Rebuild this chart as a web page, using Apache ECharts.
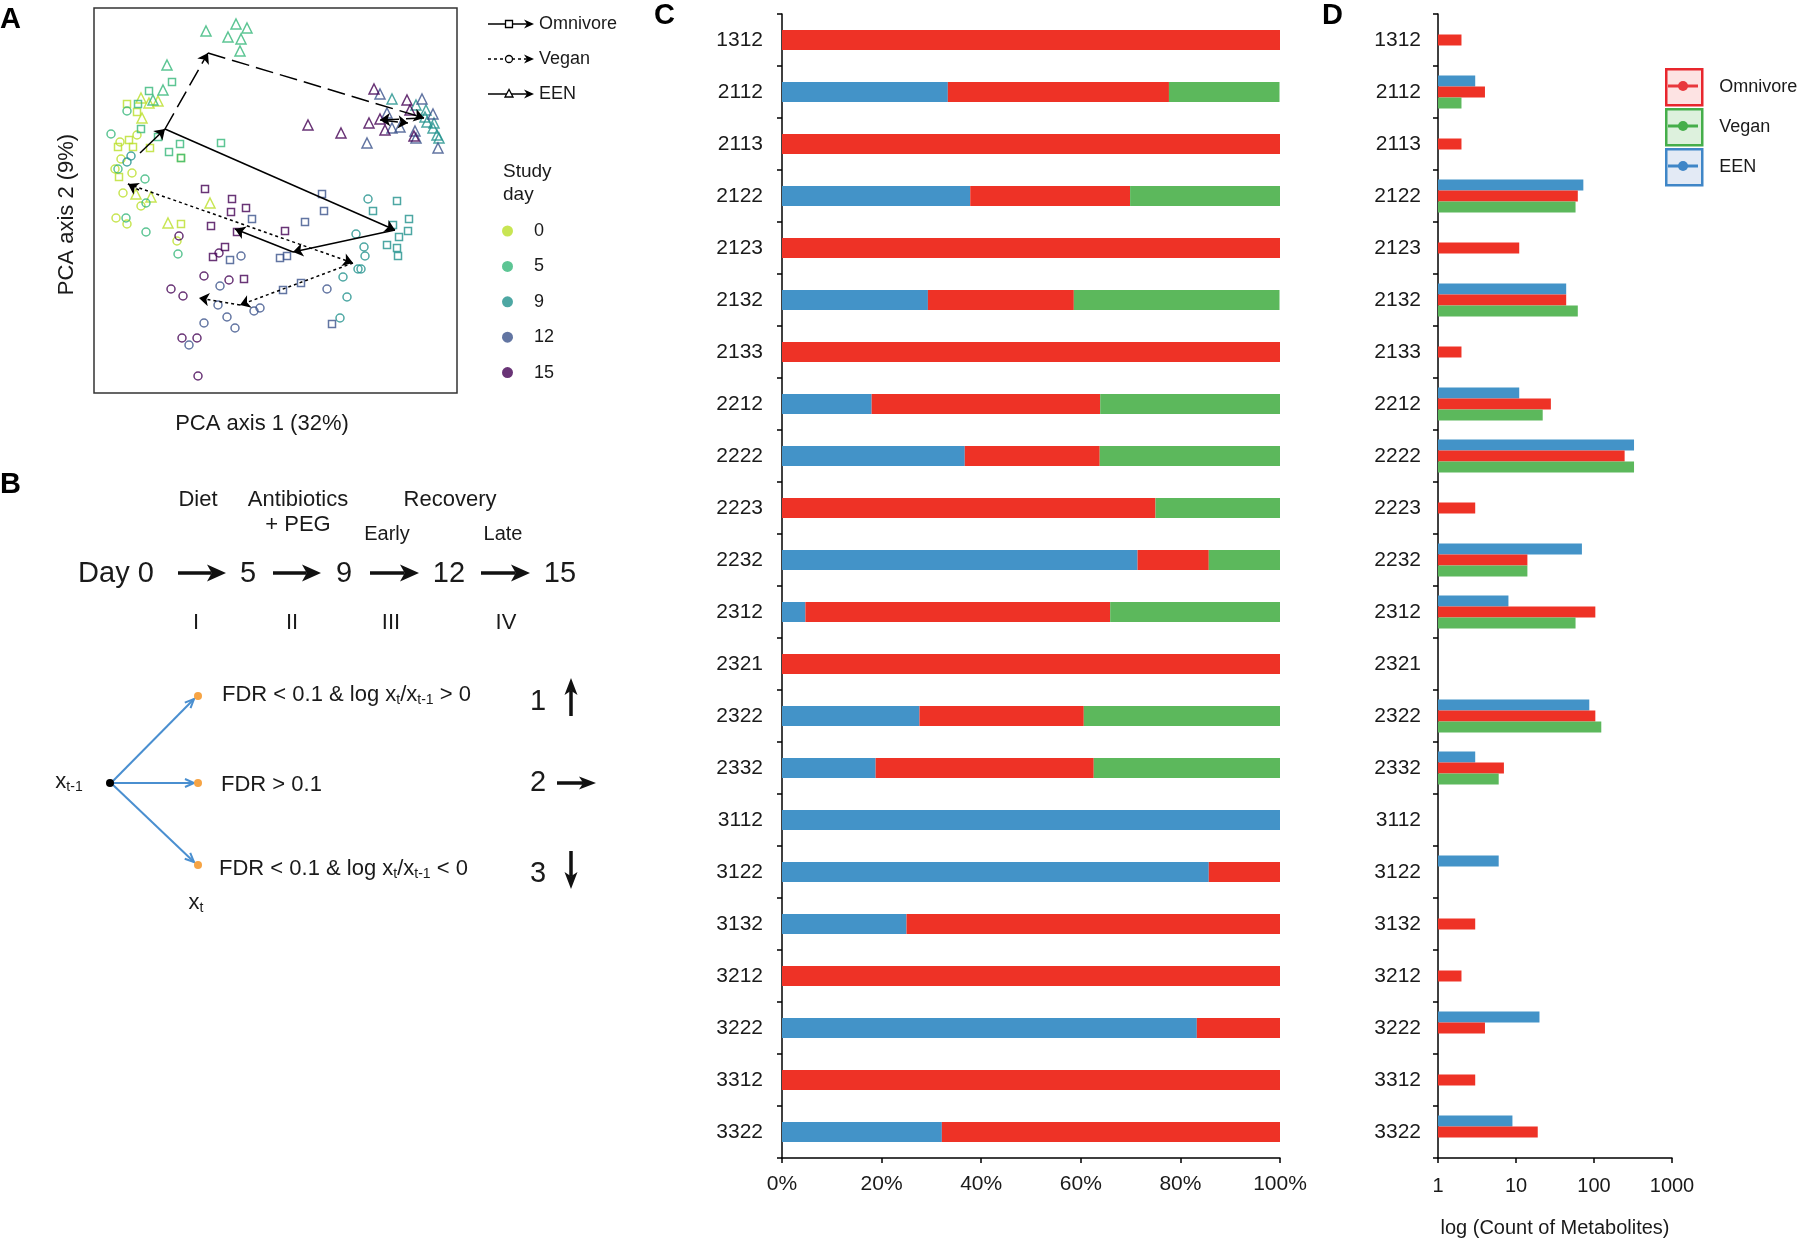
<!DOCTYPE html>
<html>
<head>
<meta charset="utf-8">
<title>Metabolite trajectories</title>
<script src="https://cdn.jsdelivr.net/npm/echarts@6/dist/echarts.min.js"></script>
<style>
  html, body { margin: 0; padding: 0; background: #fff; }
  #main { width: 1800px; height: 1239px; }
</style>
</head>
<body>
<div id="main"></div>
<script>
// ---------- data ----------
// panel A: PCA scores (arbitrary units), squares = Omnivore, circles = Vegan, triangles = EEN
const days = ['0', '5', '9', '12', '15'];
const dayColors = ['#BADE28', '#35B779', '#21918C', '#3B528B', '#440154'];

const omniD0 = [[33,289],[43,281],[35,253],[24,246],[39,246],[56,245],[87,235],[25,216],[87,169]];
const omniD5 = [[78,311],[55,302],[44,289],[47,264],[64,256],[75,241],[86,249],[87,235],[127,250]];
const omniD9 = [[303,192],[279,182],[315,174],[299,168],[314,162],[305,156],[293,148],[303,145],[304,137]];
const omniD12 = [[228,199],[230,182],[211,171],[158,174],[136,133],[186,135],[193,137],[207,110],[189,103],[238,69]];
const omniD15 = [[111,204],[138,194],[137,181],[152,185],[117,167],[143,161],[191,162],[131,146],[119,136],[150,114]];

const veganD0 = [[43,258],[26,251],[27,234],[21,224],[38,220],[29,200],[47,187],[22,175],[33,169],[83,152]];
const veganD5 = [[33,282],[17,259],[24,224],[51,214],[52,190],[32,175],[52,161],[84,139]];
const veganD9 = [[37,237],[33,231],[274,194],[262,159],[270,146],[271,137],[264,124],[267,124],[249,116],[253,96],[246,75]];
const veganD12 = [[147,137],[126,107],[124,88],[160,82],[166,85],[233,104],[133,76],[110,70],[141,65],[95,48]];
const veganD15 = [[85,157],[125,140],[110,117],[135,113],[77,104],[89,97],[88,55],[103,55],[104,17]];

const eenD0 = [[47,295],[55,290],[64,292],[48,275],[42,199],[57,196],[74,170],[116,190]];
const eenD5 = [[112,362],[142,369],[153,365],[134,356],[147,354],[146,342],[73,328],[69,303],[59,293]];
const eenD9 = [[298,294],[322,288],[332,283],[331,276],[333,271],[340,270],[339,265],[343,258],[345,255]];
const eenD12 = [[286,299],[328,294],[339,279],[293,280],[298,265],[306,266],[321,262],[322,255],[273,250],[344,245]];
const eenD15 = [[280,304],[313,293],[316,283],[286,274],[275,270],[291,263],[320,257],[214,268],[247,260]];

// centroid trajectories, day 0 -> 5 -> 9 -> 12 -> 15
const omniPath = [[46,240],[71,264],[301,163],[199,141],[141,164]];
const veganPath = [[45,203],[34,209],[259,130],[146,88],[105,95]];
const eenPath = [[71,264],[114,340],[330,275],[286,273],[314,270]];

// panels C and D
const patterns = ['1312','2112','2113','2122','2123','2132','2133','2212','2222','2223','2232',
  '2312','2321','2322','2332','3112','3122','3132','3212','3222','3312','3322'];
// C: share of metabolites (%)
const pctEEN = [0,33.3,0,37.8,0,29.3,0,18.0,36.7,0,71.4,4.7,0,27.6,18.8,100,85.7,25,0,83.3,0,32.1];
const pctOmni = [100,44.4,100,32.1,100,29.3,100,45.9,27.1,75,14.3,61.2,100,33.0,43.8,0,14.3,75,100,16.7,100,67.9];
const pctVegan = [0,22.2,0,30.1,0,41.3,0,36.1,36.2,25,14.3,34.1,0,39.4,37.5,0,0,0,0,0,0,0];
// D: count of metabolites
const cntEEN = [null,3,null,73,null,44,null,11,326,null,70,8,null,87,3,1,6,1,null,20,null,9];
const cntOmni = [2,4,2,62,11,44,2,28,247,3,14,104,1,104,7,null,1,3,2,4,3,19];
const cntVegan = [null,2,null,58,null,62,null,22,326,1,14,58,null,124,6,null,null,null,null,null,null,null];

// ---------- style ----------
const FONT = '"Liberation Sans", Arial, Helvetica, sans-serif';
const BLUE = '#4393C8', RED = '#EE3226', GREEN = '#5CB85C';

const omniByDay = [omniD0, omniD5, omniD9, omniD12, omniD15];
const veganByDay = [veganD0, veganD5, veganD9, veganD12, veganD15];
const eenByDay = [eenD0, eenD5, eenD9, eenD12, eenD15];

const scatterSeries = days.map((d, i) => ({
  name: d,
  type: 'scatter',
  xAxisIndex: 0,
  yAxisIndex: 0,
  itemStyle: { color: 'rgba(255,255,255,0)', borderColor: dayColors[i], borderWidth: 1.5 },
  data: [].concat(
    omniByDay[i].map(p => ({ value: p, symbol: 'rect', symbolSize: 7 })),
    veganByDay[i].map(p => ({ value: p, symbol: 'circle', symbolSize: 8 })),
    eenByDay[i].map(p => ({ value: p, symbol: 'triangle', symbolSize: 10 }))
  )
}));

function segments(path) {
  return path.slice(1).map((p, i) => ({ coords: [path[i], p] }));
}
function pathSeries(name, path, dash) {
  return {
    name: name,
    type: 'lines',
    coordinateSystem: 'cartesian2d',
    xAxisIndex: 0,
    yAxisIndex: 0,
    symbol: ['none', 'arrow'],
    symbolSize: 10,
    z: 5,
    lineStyle: { color: '#000', width: 1.5, type: dash, opacity: 1, curveness: 0 },
    data: segments(path)
  };
}

// ---------- graphic helpers (panel B, legends) ----------
function txt(x, y, text, size, extra) {
  return {
    type: 'text', x: x, y: y, z: 100,
    style: Object.assign({
      text: text, fontSize: size, fontFamily: FONT, fill: '#1a1a1a',
      align: 'center', verticalAlign: 'middle', textAlign: 'center', textVerticalAlign: 'middle'
    }, extra || {})
  };
}
function arrow(x1, y1, x2, y2, color, lw, hl, hw) {
  const a = Math.atan2(y2 - y1, x2 - x1), c = Math.cos(a), s = Math.sin(a);
  const bx = x2 - hl * c, by = y2 - hl * s;
  const nx = x2 - hl * 0.75 * c, ny = y2 - hl * 0.75 * s;
  return [
    { type: 'line', z: 100, shape: { x1: x1, y1: y1, x2: nx, y2: ny }, style: { stroke: color, lineWidth: lw } },
    { type: 'polygon', z: 100, shape: { points: [[x2, y2], [bx - s * hw / 2, by + c * hw / 2], [nx, ny], [bx + s * hw / 2, by - c * hw / 2]] },
      style: { fill: color } }
  ];
}
function openArrow(x1, y1, x2, y2, color) {
  const a = Math.atan2(y2 - y1, x2 - x1), c = Math.cos(a), s = Math.sin(a);
  const hl = 9, hw = 8;
  const bx = x2 - hl * c, by = y2 - hl * s;
  return [
    { type: 'line', z: 100, shape: { x1: x1, y1: y1, x2: x2, y2: y2 }, style: { stroke: color, lineWidth: 2 } },
    { type: 'polyline', z: 100, shape: { points: [[bx - s * hw / 2, by + c * hw / 2], [x2, y2], [bx + s * hw / 2, by - c * hw / 2]] },
      style: { stroke: color, lineWidth: 2, fill: null } }
  ];
}

const subRich = { sub: { fontSize: 14, fontFamily: FONT, fill: '#1a1a1a', padding: [11, 0, 0, 0] } };
const graphics = [];

// panel letters
[['A', 0, 20], ['B', 0, 485], ['C', 654, 16], ['D', 1322, 16]].forEach(l => {
  graphics.push(txt(l[1], l[2], l[0], 29, { fontWeight: 'bold', align: 'left', textAlign: 'left', fill: '#000' }));
});

// panel A line legend
const legRows = [['Omnivore', 24, 'rect', 'solid'], ['Vegan', 59, 'circle', [3, 3]], ['EEN', 94, 'tri', 'solid']];
legRows.forEach(r => {
  const y = r[1];
  graphics.push({ type: 'line', z: 100, shape: { x1: 488, y1: y, x2: 527, y2: y }, style: { stroke: '#000', lineWidth: 1.3, lineDash: r[3] === 'solid' ? null : r[3] } });
  graphics.push({ type: 'polygon', z: 100, shape: { points: [[534, y], [524, y - 4.5], [527, y], [524, y + 4.5]] }, style: { fill: '#000' } });
  if (r[2] === 'rect') graphics.push({ type: 'rect', z: 101, shape: { x: 505.5, y: y - 3.5, width: 7, height: 7 }, style: { fill: '#fff', stroke: '#000', lineWidth: 1.3 } });
  if (r[2] === 'circle') graphics.push({ type: 'circle', z: 101, shape: { cx: 509, cy: y, r: 3.5 }, style: { fill: '#fff', stroke: '#000', lineWidth: 1.3 } });
  if (r[2] === 'tri') graphics.push({ type: 'polygon', z: 101, shape: { points: [[509, y - 4.5], [505, y + 3], [513, y + 3]] }, style: { fill: '#fff', stroke: '#000', lineWidth: 1.3 } });
  graphics.push(txt(539, y, r[0], 18, { align: 'left', textAlign: 'left' }));
});
graphics.push(txt(503, 160, 'Study\nday', 19, { align: 'left', textAlign: 'left', verticalAlign: 'top', textVerticalAlign: 'top', lineHeight: 23 }));

// panel D legend line markers inside the legend boxes
[[86, '#E8383D'], [126, '#45AE4A'], [166, '#3F86C7']].forEach(m => {
  graphics.push({ type: 'line', z: 100, shape: { x1: 1668, y1: m[0], x2: 1698, y2: m[0] }, style: { stroke: m[1], lineWidth: 3 } });
  graphics.push({ type: 'circle', z: 101, shape: { cx: 1683, cy: m[0], r: 5 }, style: { fill: m[1] } });
});

// panel B: timeline
graphics.push(txt(198, 500, 'Diet', 22));
graphics.push(txt(298, 500, 'Antibiotics', 22));
graphics.push(txt(298, 525, '+ PEG', 22));
graphics.push(txt(450, 500, 'Recovery', 22));
graphics.push(txt(387, 534, 'Early', 20));
graphics.push(txt(503, 534, 'Late', 20));
[['Day 0', 116], ['5', 248], ['9', 344], ['12', 449], ['15', 560]].forEach(d => graphics.push(txt(d[1], 574, d[0], 29)));
[[178, 226], [273, 321], [370, 419], [481, 530]].forEach(a => arrow(a[0], 573, a[1], 573, '#111', 3.5, 19, 17).forEach(g => graphics.push(g)));
[['I', 196], ['II', 292], ['III', 391], ['IV', 506]].forEach(r => graphics.push(txt(r[1], 623, r[0], 22)));

// panel B: classification scheme
graphics.push(txt(69, 782, 'x{sub|t-1}', 22, { rich: subRich }));
const branchY = [696, 783, 865];
branchY.forEach(y => openArrow(111, 783, 194, y + (y === 783 ? 0 : (y < 783 ? 3 : -3)), '#4A8FD0').forEach(g => graphics.push(g)));
graphics.push({ type: 'circle', z: 101, shape: { cx: 110, cy: 783, r: 4 }, style: { fill: '#000' } });
branchY.forEach(y => graphics.push({ type: 'circle', z: 101, shape: { cx: 198, cy: y, r: 4 }, style: { fill: '#F6A445' } }));
graphics.push(txt(222, 695, 'FDR < 0.1 & log x{sub|t}/x{sub|t-1} > 0', 22, { align: 'left', textAlign: 'left', rich: subRich }));
graphics.push(txt(221, 785, 'FDR > 0.1', 22, { align: 'left', textAlign: 'left' }));
graphics.push(txt(219, 869, 'FDR < 0.1 & log x{sub|t}/x{sub|t-1} < 0', 22, { align: 'left', textAlign: 'left', rich: subRich }));
graphics.push(txt(196, 903, 'x{sub|t}', 22, { rich: subRich }));
graphics.push(txt(538, 702, '1', 29));
graphics.push(txt(538, 783, '2', 29));
graphics.push(txt(538, 874, '3', 29));
arrow(571, 716, 571, 678, '#111', 3.5, 17, 13).forEach(g => graphics.push(g));
arrow(557, 783, 596, 783, '#111', 3.5, 17, 13).forEach(g => graphics.push(g));
arrow(571, 851, 571, 889, '#111', 3.5, 17, 13).forEach(g => graphics.push(g));

// ---------- option ----------
const axisLineBlack = { show: true, lineStyle: { color: '#000', width: 1.5 } };
const labelStyle = { fontFamily: FONT, color: '#1a1a1a', fontSize: 21 };

const option = {
  animation: false,
  backgroundColor: '#fff',
  grid: [
    { left: 94, top: 8, width: 363, height: 385, outerBoundsMode: 'none', show: true, borderColor: '#333', borderWidth: 1.5, backgroundColor: 'rgba(0,0,0,0)' },
    { left: 782, top: 14, width: 498, height: 1144, outerBoundsMode: 'none' },
    { left: 1438, top: 14, width: 234, height: 1144, outerBoundsMode: 'none' }
  ],
  xAxis: [
    { gridIndex: 0, type: 'value', min: 0, max: 363,
      name: 'PCA axis 1 (32%)', nameLocation: 'middle', nameGap: 20,
      nameTextStyle: { fontFamily: FONT, fontSize: 22, color: '#1a1a1a', padding: [0, 27, 0, 0] },
      axisLine: { show: false }, axisTick: { show: false }, axisLabel: { show: false }, splitLine: { show: false } },
    { gridIndex: 1, type: 'value', min: 0, max: 100, interval: 20,
      axisLine: axisLineBlack, axisTick: { show: true, length: 5, lineStyle: { color: '#000', width: 1.5 } },
      axisLabel: Object.assign({ formatter: '{value}%', margin: 16 }, labelStyle), splitLine: { show: false } },
    { gridIndex: 2, type: 'log', logBase: 10, min: 1, max: 1000,
      name: 'log (Count of Metabolites)', nameLocation: 'middle', nameGap: 60,
      nameTextStyle: { fontFamily: FONT, fontSize: 20, color: '#1a1a1a' },
      axisLine: axisLineBlack, axisTick: { show: true, length: 5, lineStyle: { color: '#000', width: 1.5 } },
      minorTick: { show: false },
      axisLabel: Object.assign({ margin: 18, formatter: v => String(Math.round(v)) }, labelStyle, { fontSize: 20 }),
      splitLine: { show: false } }
  ],
  yAxis: [
    { gridIndex: 0, type: 'value', min: 0, max: 385,
      name: 'PCA axis 2 (9%)', nameLocation: 'middle', nameGap: 16,
      nameTextStyle: { fontFamily: FONT, fontSize: 22, color: '#1a1a1a', padding: [0, 28, 0, 0] },
      axisLine: { show: false }, axisTick: { show: false }, axisLabel: { show: false }, splitLine: { show: false } },
    { gridIndex: 1, type: 'category', data: patterns, inverse: true,
      axisLine: axisLineBlack, axisTick: { show: true, length: 5, lineStyle: { color: '#000', width: 1.5 } },
      axisLabel: Object.assign({ margin: 19 }, labelStyle) },
    { gridIndex: 2, type: 'category', data: patterns, inverse: true,
      axisLine: axisLineBlack, axisTick: { show: true, length: 5, lineStyle: { color: '#000', width: 1.5 } },
      axisLabel: Object.assign({ margin: 17 }, labelStyle) }
  ],
  legend: [
    { orient: 'vertical', left: 502, top: 222, padding: 0, itemWidth: 11, itemHeight: 11, itemGap: 17.4, selectedMode: false,
      textStyle: { fontFamily: FONT, fontSize: 18, color: '#1a1a1a', padding: [0, 0, 0, 16] },
      data: days.map((d, i) => ({ name: d, icon: 'circle', itemStyle: { color: dayColors[i], borderWidth: 0 } })) },
    { orient: 'vertical', left: 1665, top: 68, padding: 0, itemWidth: 36, itemHeight: 36, itemGap: 1.5, selectedMode: false,
      textStyle: { fontFamily: FONT, fontSize: 18, color: '#1a1a1a', padding: [0, 0, 0, 12] },
      data: [
        { name: 'Omnivore', icon: 'rect', itemStyle: { color: '#FDE3E3', borderColor: '#E8262D', borderWidth: 2.5 } },
        { name: 'Vegan', icon: 'rect', itemStyle: { color: '#DDF1DD', borderColor: '#45AE4A', borderWidth: 2.5 } },
        { name: 'EEN', icon: 'rect', itemStyle: { color: '#E3EAF5', borderColor: '#3F86C7', borderWidth: 2.5 } }
      ] }
  ],
  graphic: graphics,
  series: scatterSeries.concat([
    pathSeries('Omnivore path', omniPath, 'solid'),
    pathSeries('Vegan path', veganPath, [3, 3]),
    pathSeries('EEN path', eenPath, [18, 7]),
    { name: 'EEN', type: 'bar', xAxisIndex: 1, yAxisIndex: 1, stack: 'share', barWidth: 20, itemStyle: { color: BLUE }, data: pctEEN },
    { name: 'Omnivore', type: 'bar', xAxisIndex: 1, yAxisIndex: 1, stack: 'share', barWidth: 20, itemStyle: { color: RED }, data: pctOmni },
    { name: 'Vegan', type: 'bar', xAxisIndex: 1, yAxisIndex: 1, stack: 'share', barWidth: 20, itemStyle: { color: GREEN }, data: pctVegan },
    { name: 'EEN', type: 'bar', xAxisIndex: 2, yAxisIndex: 2, barWidth: 11, barGap: '0%', itemStyle: { color: BLUE }, data: cntEEN },
    { name: 'Omnivore', type: 'bar', xAxisIndex: 2, yAxisIndex: 2, barWidth: 11, barGap: '0%', itemStyle: { color: RED }, data: cntOmni },
    { name: 'Vegan', type: 'bar', xAxisIndex: 2, yAxisIndex: 2, barWidth: 11, barGap: '0%', itemStyle: { color: GREEN }, data: cntVegan }
  ])
};

const chart = echarts.init(document.getElementById('main'));
chart.setOption(option);
window.onresize = function () { chart.resize(); };
</script>
</body>
</html>
